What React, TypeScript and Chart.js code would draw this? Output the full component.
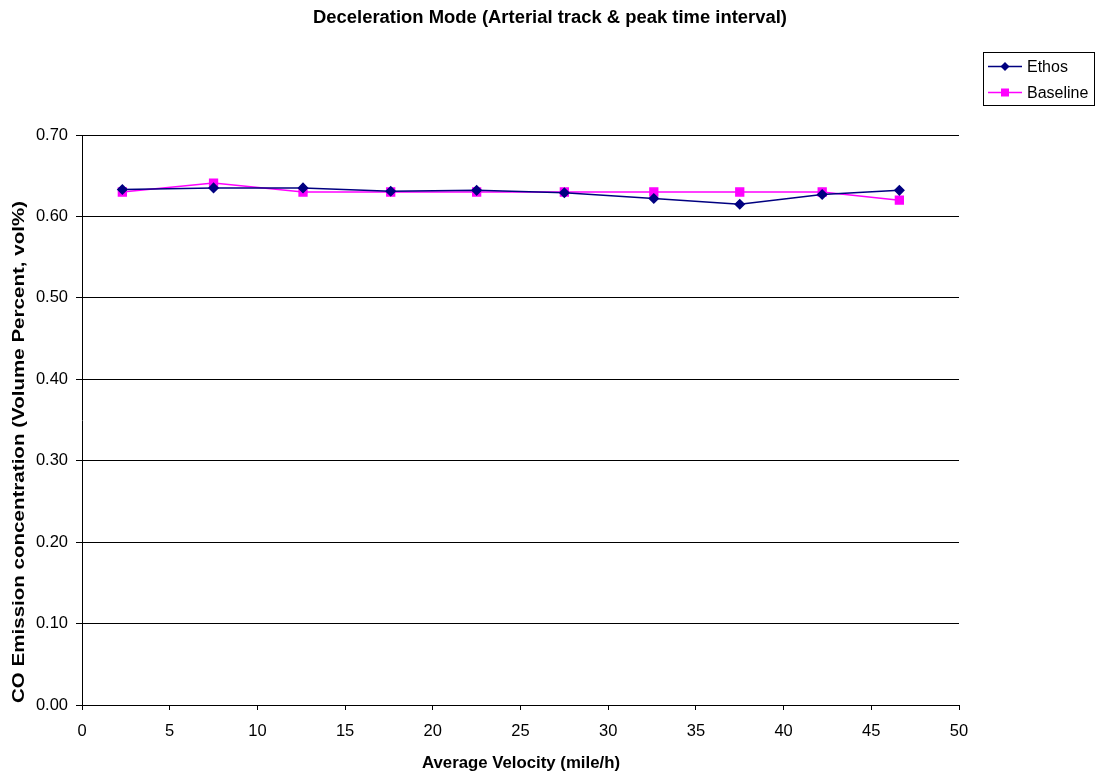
import React, { useEffect, useRef } from "react";
import { Chart, registerables } from "chart.js";

Chart.register(...registerables);

const velocity = [2.3, 7.5, 12.6, 17.6, 22.5, 27.5, 32.6, 37.5, 42.2, 46.6];
const ethos = [0.633, 0.635, 0.635, 0.631, 0.632, 0.629, 0.622, 0.615, 0.627, 0.632];
const baseline = [0.63, 0.641, 0.63, 0.63, 0.63, 0.63, 0.63, 0.63, 0.63, 0.62];

const titleText = "Deceleration Mode (Arterial track & peak time interval)";
const xTitle = "Average Velocity (mile/h)";
const yTitle = "CO Emission concentration (Volume Percent, vol%)";
const FONT = "'Liberation Sans', Arial, sans-serif";

const NAVY = "#000080";
const MAGENTA = "#FF00FF";

// Writes text centred at (cx, cy), stretched along its baseline to a given length.
function fitText(
  ctx: CanvasRenderingContext2D,
  text: string,
  cx: number,
  cy: number,
  length: number,
  rotate: number
) {
  const w = ctx.measureText(text).width;
  ctx.save();
  ctx.translate(cx, cy);
  ctx.rotate(rotate);
  ctx.scale(length / w, 1);
  ctx.textAlign = "center";
  ctx.textBaseline = "middle";
  ctx.fillText(text, 0, 0);
  ctx.restore();
}

// Draws the chart title, the axis titles and the boxed legend on the right.
const decorPlugin = {
  id: "decor",
  afterDraw(chart: any) {
    const ctx = chart.ctx as CanvasRenderingContext2D;
    ctx.save();
    ctx.fillStyle = "#000";
    ctx.font = `bold 18px ${FONT}`;
    fitText(ctx, titleText, 550, 18, 474, 0);
    ctx.font = `bold 16.5px ${FONT}`;
    fitText(ctx, xTitle, 521, 763, 198, 0);
    fitText(ctx, yTitle, 19, 452, 502, -Math.PI / 2);

    // legend box
    const bx = 983.5, by = 52.5, bw = 111, bh = 53;
    ctx.strokeStyle = "#000";
    ctx.lineWidth = 1;
    ctx.strokeRect(bx, by, bw, bh);
    const rows = [66.5, 92.5];
    chart.data.datasets.forEach((ds: any, i: number) => {
      const y = rows[i];
      ctx.strokeStyle = ds.borderColor;
      ctx.lineWidth = 1.5;
      ctx.beginPath();
      ctx.moveTo(988, y);
      ctx.lineTo(1022, y);
      ctx.stroke();
      ctx.fillStyle = ds.pointBackgroundColor;
      ctx.beginPath();
      if (ds.pointStyle === "rectRot") {
        const r = 4.5;
        ctx.moveTo(1005, y - r);
        ctx.lineTo(1005 + r, y);
        ctx.lineTo(1005, y + r);
        ctx.lineTo(1005 - r, y);
        ctx.closePath();
      } else {
        ctx.rect(1005 - 4, y - 4, 8, 8);
      }
      ctx.fill();
      ctx.fillStyle = "#000";
      ctx.font = `16px ${FONT}`;
      ctx.textAlign = "left";
      ctx.textBaseline = "middle";
      ctx.fillText(ds.label, 1027, y + 1);
    });
    ctx.restore();
  },
};

export default function App() {
  const ref = useRef<HTMLCanvasElement | null>(null);

  useEffect(() => {
    if (!ref.current) return;
    const chart = new Chart(ref.current, {
      type: "line",
      data: {
        datasets: [
          {
            label: "Ethos",
            data: velocity.map((v, i) => ({ x: v, y: ethos[i] })),
            borderColor: NAVY,
            backgroundColor: NAVY,
            pointBackgroundColor: NAVY,
            pointBorderColor: NAVY,
            pointStyle: "rectRot",
            pointRadius: 4.5,
            borderWidth: 1.5,
          },
          {
            label: "Baseline",
            data: velocity.map((v, i) => ({ x: v, y: baseline[i] })),
            borderColor: MAGENTA,
            backgroundColor: MAGENTA,
            pointBackgroundColor: MAGENTA,
            pointBorderColor: MAGENTA,
            pointStyle: "rect",
            pointRadius: 5.5,
            borderWidth: 1.5,
          },
        ],
      },
      options: {
        animation: false,
        responsive: false,
        layout: { padding: { top: 135, right: 137, left: 0, bottom: 0 } },
        plugins: {
          legend: { display: false },
          title: { display: false },
          tooltip: { enabled: false },
        },
        scales: {
          x: {
            type: "linear",
            min: 0,
            max: 50,
            ticks: {
              stepSize: 5,
              color: "#000",
              font: { family: FONT, size: 16.5 },
              padding: 12,
            },
            grid: {
              drawOnChartArea: false,
              drawTicks: true,
              tickLength: 5,
              color: "#000",
            },
            border: { color: "#000", width: 1 },
            afterFit(scale: any) {
              scale.height = 70;
            },
          },
          y: {
            type: "linear",
            min: 0,
            max: 0.7,
            ticks: {
              stepSize: 0.1,
              color: "#000",
              font: { family: FONT, size: 16.5 },
              padding: 8,
              callback: (v: any) => Number(v).toFixed(2),
            },
            grid: {
              drawOnChartArea: true,
              drawTicks: true,
              tickLength: 6,
              color: "#000",
            },
            border: { color: "#000", width: 1 },
            afterFit(scale: any) {
              scale.width = 82;
            },
          },
        },
      },
      plugins: [decorPlugin],
    });
    return () => chart.destroy();
  }, []);

  return (
    <div style={{ position: "fixed", left: 0, top: 0, width: 1096, height: 775, background: "#fff" }}>
      <canvas ref={ref} width={1096} height={775} style={{ width: 1096, height: 775 }} />
    </div>
  );
}
